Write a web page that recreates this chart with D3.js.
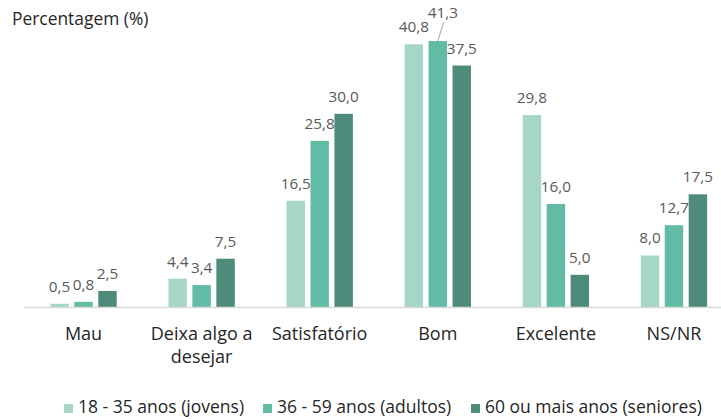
<!DOCTYPE html>
<html><head><meta charset="utf-8">
<script src="https://cdn.jsdelivr.net/npm/d3@7"></script>
<style>body{margin:0;background:#fff}svg{display:block}text{font-family:"Open Sans",sans-serif}</style>
</head><body>
<script>
const categories = [["Mau"], ["Deixa algo a","desejar"], ["Satisfatório"], ["Bom"], ["Excelente"], ["NS/NR"]];
const seriesNames = ["18 - 35 anos (jovens)", "36 - 59 anos (adultos)", "60 ou mais anos (seniores)"];
const jovens = [0.5, 4.4, 16.5, 40.8, 29.8, 8.0];
const adultos = [0.8, 3.4, 25.8, 41.3, 16.0, 12.7];
const seniores = [2.5, 7.5, 30.0, 37.5, 5.0, 17.5];
const colors = ["#A5D6C7", "#62BBA5", "#4E8B7B"];
const yTitle = "Percentagem (%)";

const W = 721, H = 419;
const svg = d3.select("body").append("svg").attr("width", W).attr("height", H);
const series = [jovens, adultos, seniores];

const x = d3.scaleBand().domain(d3.range(categories.length)).range([24.5, 733]);
const xs = d3.scaleBand().domain(d3.range(3)).range([0, x.bandwidth()]).paddingInner(0.23).paddingOuter(1.08);
const y = d3.scaleLinear().domain([0, 45]).range([307, 307 - 45 * 6.44]);

svg.append("text").attr("x", 12).attr("y", 25).attr("font-size", 17.4).attr("fill", "#262626").text(yTitle);

const g = svg.append("g");
series.forEach((vals, si) => {
  g.selectAll(null).data(vals).enter().append("rect")
    .attr("x", (d, i) => x(i) + xs(si))
    .attr("width", xs.bandwidth())
    .attr("y", d => y(d))
    .attr("height", d => y(0) - y(d))
    .attr("fill", colors[si]);
});

// axis
svg.append("line").attr("x1", x.range()[0]).attr("x2", x.range()[1]).attr("y1", y(0) + 0.5).attr("y2", y(0) + 0.5)
  .attr("stroke", "#D9D9D9").attr("stroke-width", 1.5);

// data labels
const fmt = v => d3.format(".1f")(v).replace(".", ",");
series.forEach((vals, si) => {
  vals.forEach((v, i) => {
    const cx = x(i) + xs(si) + xs.bandwidth() / 2;
    let ty = y(v) - 12, tx = cx;
    if (si === 1 && i === 3) {
      tx = cx + 5; ty = 18;
      svg.append("line").attr("x1", cx + 6).attr("y1", 22).attr("x2", cx).attr("y2", y(v))
        .attr("stroke", "#A6A6A6").attr("stroke-width", 1);
    }
    svg.append("text").attr("x", tx).attr("y", ty).attr("text-anchor", "middle")
      .attr("font-size", 15.3).attr("fill", "#595959").text(fmt(v));
  });
});

// category labels
categories.forEach((lines, i) => {
  const t = svg.append("text").attr("text-anchor", "middle").attr("font-size", 18).attr("fill", "#262626");
  lines.forEach((l, j) => t.append("tspan").attr("x", x(i) + x.bandwidth() / 2).attr("y", 340 + j * 23).text(l));
});

// legend
const legX = [64, 263, 471];
seriesNames.forEach((n, i) => {
  svg.append("rect").attr("x", legX[i]).attr("y", 404).attr("width", 9).attr("height", 9).attr("fill", colors[i]);
  svg.append("text").attr("x", legX[i] + 14).attr("y", 413).attr("font-size", 17.5).attr("fill", "#262626").text(n);
});
</script>
</body></html>
